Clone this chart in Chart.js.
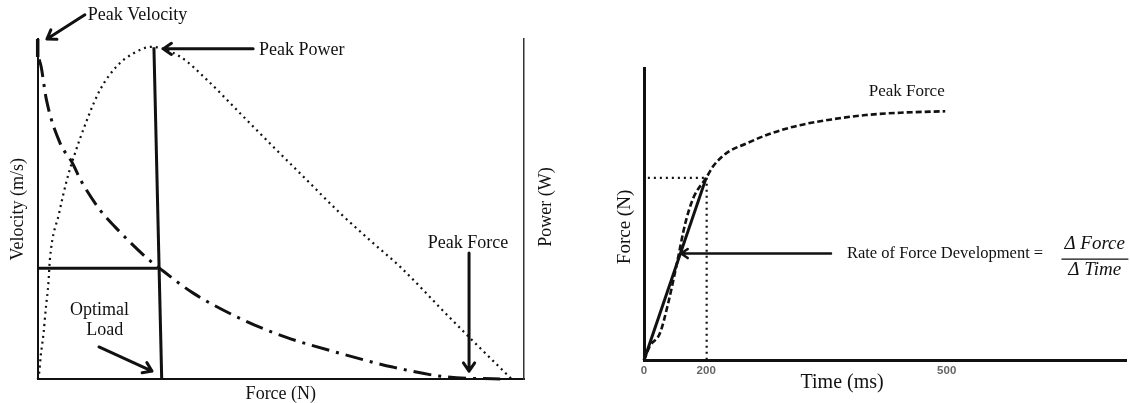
<!DOCTYPE html>
<html>
<head>
<meta charset="utf-8">
<script src="https://cdn.jsdelivr.net/npm/chart.js@4"></script>
<style>
  html, body { margin: 0; padding: 0; background: #fff; }
  #wrap { position: relative; width: 1130px; height: 403px; }
  canvas { position: absolute; top: 0; }
  #fv { left: 0; }
  #ft { left: 565px; }
</style>
</head>
<body>
<div id="wrap">
  <canvas id="fv" width="565" height="403"></canvas>
  <canvas id="ft" width="565" height="403"></canvas>
</div>
<script>
// left sketch: force-velocity / power. force and both curves are in % of the axis (no units on the sketch)
var velocityForce = [0.3, 0.7, 1.8, 4.6, 7.0, 9.0, 12.8, 15.9, 22.4, 26.0, 31.9, 42.2, 51.0, 62.0, 73.0, 84.0, 95.1];
var velocity      = [94.0, 91.9, 82.1, 69.4, 63.9, 58.1, 49.8, 44.8, 35.7, 31.6, 25.4, 17.5, 12.4, 7.7, 3.6, 0.7, 0.1];
var powerForce = [0, 0.3, 0.6, 1.2, 1.7, 2.2, 2.5, 4.4, 6.0, 7.0, 10.4, 12.8, 16.2, 19.7, 23.4, 29.3, 34.8, 41.6, 48.4, 55.3, 62.2, 69.0, 74.5, 84.2, 88.7, 97.5];
var power      = [0, 1.8, 6.6, 13.5, 21.3, 28.2, 35.1, 48.8, 58.6, 63.5, 77.2, 85.0, 91.9, 95.8, 97.7, 94.8, 88.0, 78.2, 68.4, 58.6, 48.8, 40.0, 33.1, 18.9, 12.4, 0];
var peakVelocityForce = [0, 0];
var peakVelocity      = [100, 94.7];
var optimalLoadForce = [23.9, 25.5];
var optimalLoadPower = [97.6, 0];
var optimalVelForce = [0, 24.7];
var optimalVel      = [32.6, 32.6];

// right sketch: force-time. time axis is drawn out of scale, so ticks sit where the sketch puts them
var timeTicks  = ['0', '200', '500'];
var timeTickAt = [0, 12.9, 62.8];
var time  = [0, 1.2, 3.3, 5.0, 6.8, 8.5, 10.2, 12.9, 14.5, 17.4, 21.0, 26.0, 31.7, 38.9, 46.0, 53.2, 62.5];
var force = [0, 4.8, 9.2, 19.4, 32.9, 46.4, 55.4, 62.4, 66.7, 71.2, 74.0, 77.4, 80.2, 82.4, 83.9, 84.7, 85.2];
var rfdTime  = [0, 12.9];
var rfdForce = [0, 62.4];
var levelTime  = [0.8, 12.9];
var levelForce = [62.4, 62.4];
var markTime  = [13.0, 13.0];
var markForce = [62.4, 0];

var SERIF = '"Liberation Serif", "Times New Roman", serif';

function pts(xs, ys) {
  return xs.map(function(x, i) { return {x: x, y: ys[i]}; });
}

function line(data, width, dash, extra) {
  var ds = {
    data: data, borderColor: '#111', borderWidth: width, borderDash: dash || [],
    pointRadius: 0, fill: false, clip: false, borderCapStyle: 'butt'
  };
  for (var k in extra || {}) ds[k] = extra[k];
  return ds;
}

// arrows and free text placed in data units of the x / y scales
var sketchNotes = {
  id: 'sketchNotes',
  afterDatasetsDraw: function(chart, args, opts) {
    var ctx = chart.ctx, sx = chart.scales.x, sy = chart.scales.y;
    ctx.save();
    ctx.strokeStyle = '#111';
    ctx.lineCap = 'round';
    ctx.lineJoin = 'round';
    (opts.arrows || []).forEach(function(a) {
      var x1 = sx.getPixelForValue(a.from[0]), y1 = sy.getPixelForValue(a.from[1]);
      var x2 = sx.getPixelForValue(a.to[0]), y2 = sy.getPixelForValue(a.to[1]);
      var ang = Math.atan2(y2 - y1, x2 - x1);
      var h = a.head == null ? 10 : a.head;
      ctx.lineWidth = a.width || 3;
      ctx.beginPath();
      ctx.moveTo(x1, y1);
      ctx.lineTo(x2, y2);
      if (h > 0) {
        ctx.moveTo(x2 - h * Math.cos(ang - 0.6), y2 - h * Math.sin(ang - 0.6));
        ctx.lineTo(x2, y2);
        ctx.lineTo(x2 - h * Math.cos(ang + 0.6), y2 - h * Math.sin(ang + 0.6));
      }
      ctx.stroke();
    });
    (opts.labels || []).forEach(function(l) {
      ctx.save();
      ctx.translate(sx.getPixelForValue(l.at[0]), sy.getPixelForValue(l.at[1]));
      if (l.rotate) ctx.rotate(l.rotate);
      ctx.font = (l.italic ? 'italic ' : '') + (l.size || 18) + 'px ' + SERIF;
      ctx.fillStyle = '#111';
      ctx.textAlign = l.align || 'center';
      ctx.textBaseline = 'middle';
      ctx.fillText(l.text, 0, 0);
      ctx.restore();
    });
    ctx.restore();
  }
};

function bareAxis(extra) {
  var ax = {
    type: 'linear', min: 0, max: 100,
    grid: { display: false, drawTicks: false },
    ticks: { display: false },
    border: { display: true, color: '#111', width: 2 }
  };
  for (var k in extra || {}) ax[k] = extra[k];
  return ax;
}

new Chart(document.getElementById('fv'), {
  type: 'line',
  plugins: [sketchNotes],
  data: {
    datasets: [
      line(pts(powerForce, power), 2.2, [2, 4], { yAxisID: 'y2', cubicInterpolationMode: 'monotone' }),
      line(pts(velocityForce, velocity), 3, [18, 7, 3, 7], { cubicInterpolationMode: 'monotone' }),
      line(pts(peakVelocityForce, peakVelocity), 3.5),
      line(pts(optimalLoadForce, optimalLoadPower), 3),
      line(pts(optimalVelForce, optimalVel), 3)
    ]
  },
  options: {
    responsive: false,
    animation: false,
    events: [],
    layout: { padding: { left: 4, right: 41, top: 39, bottom: 0 } },
    plugins: {
      legend: { display: false },
      tooltip: { enabled: false },
      sketchNotes: {
        arrows: [
          { from: [9.7, 107.1], to: [1.9, 100.0] },
          { from: [44.3, 97.1], to: [25.8, 97.1] },
          { from: [88.7, 37.1], to: [88.7, 2.4] },
          { from: [12.6, 9.5], to: [23.5, 2.4] }
        ],
        labels: [
          { text: 'Peak Velocity', at: [10.3, 107.1], align: 'left' },
          { text: 'Peak Power', at: [45.5, 96.8], align: 'left' },
          { text: 'Peak Force', at: [88.5, 40.1] },
          { text: 'Optimal', at: [12.7, 20.4] },
          { text: 'Load', at: [13.8, 14.5] },
          { text: 'Power (W)', at: [104.5, 50.6], rotate: -Math.PI / 2 }
        ]
      }
    },
    scales: {
      x: bareAxis({
        title: { display: true, text: 'Force (N)', color: '#111',
                 font: { family: SERIF, size: 18, lineHeight: 1 }, padding: { top: 5.7, bottom: 0 } }
      }),
      y: bareAxis({
        title: { display: true, text: 'Velocity (m/s)', color: '#111',
                 font: { family: SERIF, size: 18, lineHeight: 1 }, padding: { top: 5, bottom: 10.7 } }
      }),
      y2: bareAxis({ position: 'right', border: { display: true, color: '#333', width: 1.5 } })
    }
  }
});

new Chart(document.getElementById('ft'), {
  type: 'line',
  plugins: [sketchNotes],
  data: {
    datasets: [
      line(pts(time, force), 2.6, [6, 3], { cubicInterpolationMode: 'monotone' }),
      line(pts(rfdTime, rfdForce), 3),
      line(pts(levelTime, levelForce), 2.2, [2, 4]),
      line(pts(markTime, markForce), 2.2, [2, 4])
    ]
  },
  options: {
    responsive: false,
    animation: false,
    events: [],
    layout: { padding: { left: 79, right: 4, top: 68, bottom: 21 } },
    plugins: {
      legend: { display: false },
      tooltip: { enabled: false },
      sketchNotes: {
        arrows: [
          { from: [38.8, 36.5], to: [7.7, 36.5], width: 2.5, head: 8 },
          { from: [86.7, 34.6], to: [100.4, 34.6], width: 1.3, head: 0 }
        ],
        labels: [
          { text: 'Peak Force', at: [54.5, 92.0], size: 17 },
          { text: 'Rate of Force Development =', at: [42.1, 36.3], align: 'left', size: 16.5 },
          { text: '\u0394 Force', at: [93.5, 39.6], italic: true, size: 19 },
          { text: '\u0394 Time', at: [93.5, 30.7], italic: true, size: 19 },
          { text: 'Time (ms)', at: [41.1, -7.8], size: 20 },
          { text: 'Force (N)', at: [-3.9, 45.6], size: 19, rotate: -Math.PI / 2 }
        ]
      }
    },
    scales: {
      x: bareAxis({
        border: { display: true, color: '#111', width: 3 },
        afterBuildTicks: function(axis) {
          axis.ticks = timeTickAt.map(function(v) { return { value: v }; });
        },
        ticks: {
          display: true, autoSkip: false, maxRotation: 0, padding: 4, color: '#666',
          font: { family: '"Liberation Sans", Arial, sans-serif', size: 11.5, weight: 'bold' },
          callback: function(value, index) { return timeTicks[index]; }
        }
      }),
      y: bareAxis({ border: { display: true, color: '#111', width: 3 } })
    }
  }
});
</script>
</body>
</html>
